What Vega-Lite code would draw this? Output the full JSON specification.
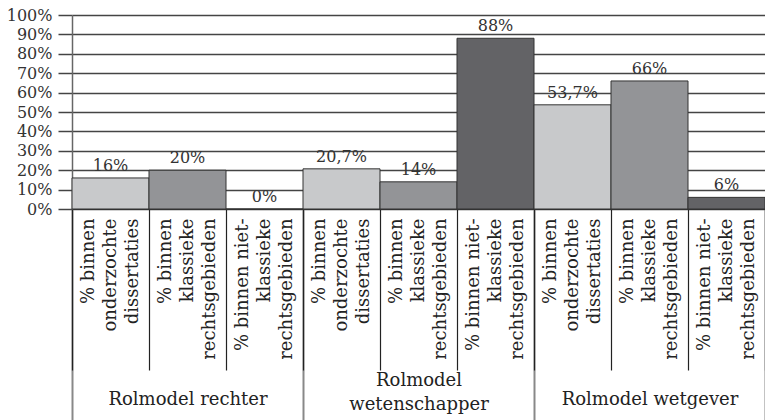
{
  "$schema": "https://vega.github.io/schema/vega-lite/v6.json",
  "width": 693,
  "height": 194,
  "autosize": {"type": "none"},
  "padding": {"left": 72, "top": 15, "right": 0, "bottom": 211},
  "background": "white",
  "config": {
    "view": {"stroke": null},
    "font": "DejaVu Serif",
    "locale": {"number": {"decimal": ",", "thousands": ".", "grouping": [3], "currency": ["€", ""]}}
  },
  "data": {
    "values": [
      {"cat": "1|% binnen|onderzochte|dissertaties", "group": "Rolmodel rechter", "type": "a", "value": 0.16},
      {"cat": "2|% binnen|klassieke|rechtsgebieden", "group": "Rolmodel rechter", "type": "b", "value": 0.20},
      {"cat": "3|% binnen niet-|klassieke|rechtsgebieden", "group": "Rolmodel rechter", "type": "c", "value": 0},
      {"cat": "4|% binnen|onderzochte|dissertaties", "group": "Rolmodel|wetenschapper", "type": "a", "value": 0.207},
      {"cat": "5|% binnen|klassieke|rechtsgebieden", "group": "Rolmodel|wetenschapper", "type": "b", "value": 0.14},
      {"cat": "6|% binnen niet-|klassieke|rechtsgebieden", "group": "Rolmodel|wetenschapper", "type": "c", "value": 0.88},
      {"cat": "7|% binnen|onderzochte|dissertaties", "group": "Rolmodel wetgever", "type": "a", "value": 0.537},
      {"cat": "8|% binnen|klassieke|rechtsgebieden", "group": "Rolmodel wetgever", "type": "b", "value": 0.66},
      {"cat": "9|% binnen niet-|klassieke|rechtsgebieden", "group": "Rolmodel wetgever", "type": "c", "value": 0.06}
    ]
  },
  "layer": [
    {
      "mark": {"type": "bar", "opacity": 0},
      "encoding": {
        "x": {
          "field": "group", "type": "nominal", "sort": null,
          "scale": {"paddingInner": 0, "paddingOuter": 0},
          "axis": {
            "orient": "bottom", "title": null,
            "labelExpr": "datum.value ? split(datum.value, '|') : ''",
            "labelAngle": 0, "labelBaseline": "middle", "labelAlign": "center",
            "labelFontSize": 18, "labelLineHeight": 24, "labelColor": "#222",
            "labelPadding": {"condition": {"test": "datum.value && indexof(datum.value, '|') >= 0", "value": -49}, "value": -30},
            "labelOverlap": false, "labelLimit": 0,
            "tickSize": 220, "tickBand": "extent", "tickColor": "#888", "tickWidth": 2,
            "domain": false
          }
        }
      }
    },
    {
      "mark": {"type": "bar", "stroke": "#333", "strokeWidth": 1},
      "encoding": {
        "x": {
          "field": "cat", "type": "nominal", "sort": null,
          "scale": {"paddingInner": 0, "paddingOuter": 0},
          "axis": {
            "orient": "bottom", "title": null,
            "labelExpr": "datum.value ? slice(split(datum.value, '|'), 1) : ''",
            "labelAngle": -90, "labelAlign": "right", "labelBaseline": "middle",
            "labelFontSize": 18, "labelLineHeight": 22, "labelColor": "#222",
            "labelOffset": -22,
            "labelPadding": -152, "labelOverlap": false, "labelLimit": 0, "labelFlush": false,
            "tickSize": 161, "tickBand": "extent", "tickColor": "#222", "tickWidth": 1.2,
            "domain": true, "domainColor": "#333", "domainWidth": 1.2
          }
        },
        "y": {
          "field": "value", "type": "quantitative",
          "scale": {"domain": [0, 1]},
          "axis": {
            "title": null, "format": ".0%",
            "values": [0, 0.1, 0.2, 0.3, 0.4, 0.5, 0.6, 0.7, 0.8, 0.9, 1],
            "labelOverlap": false,
            "tickSize": 14, "tickColor": "#444", "tickWidth": 1.5,
            "grid": true, "gridColor": "#444", "gridWidth": 1.5,
            "domain": true, "domainColor": "#666", "domainWidth": 1.5,
            "labelFontSize": 16, "labelPadding": 6, "labelColor": "#333"
          }
        },
        "color": {
          "field": "type", "type": "nominal", "legend": null,
          "scale": {"domain": ["a", "b", "c"], "range": ["#c8c9cb", "#939497", "#636366"]}
        }
      }
    },
    {
      "mark": {"type": "text", "baseline": "bottom", "dy": -4, "fontSize": 16, "color": "#333"},
      "encoding": {
        "x": {"field": "cat", "type": "nominal", "sort": null, "scale": {"paddingInner": 0, "paddingOuter": 0}, "axis": null},
        "y": {
          "field": "value", "type": "quantitative", "scale": {"domain": [0, 1]},
          "axis": {
            "title": null, "format": ".0%",
            "values": [0, 0.1, 0.2, 0.3, 0.4, 0.5, 0.6, 0.7, 0.8, 0.9, 1],
            "labelOverlap": false,
            "tickSize": 14, "tickColor": "#444", "tickWidth": 1.5,
            "grid": true, "gridColor": "#444", "gridWidth": 1.5,
            "domain": true, "domainColor": "#666", "domainWidth": 1.5,
            "labelFontSize": 16, "labelPadding": 6, "labelColor": "#333"
          }
        },
        "text": {"field": "value", "type": "quantitative", "format": ".1~%"}
      }
    }
  ],
  "resolve": {"scale": {"x": "independent"}, "axis": {"x": "independent"}}
}
